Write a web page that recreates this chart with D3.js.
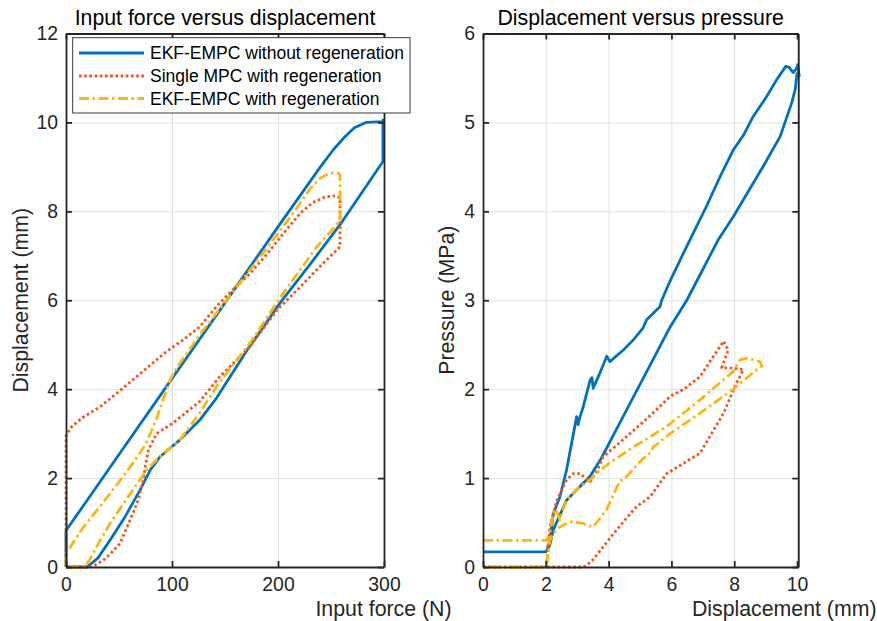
<!DOCTYPE html>
<html>
<head>
<meta charset="utf-8">
<script src="https://cdn.jsdelivr.net/npm/d3@7"></script>
<style>
  html, body { margin: 0; padding: 0; background: #fff; }
  svg { display: block; font-family: "Liberation Sans", Arial, Helvetica, sans-serif; }
</style>
</head>
<body>
<svg id="chart" width="877" height="621"></svg>
<script>
// ---------------- DATA ----------------
const seriesNames = ["EKF-EMPC without regeneration", "Single MPC with regeneration", "EKF-EMPC with regeneration"];

const leftTitle = "Input force versus displacement";
const leftXLabel = "Input force (N)";
const leftYLabel = "Displacement (mm)";
const leftXTicks = [0, 100, 200, 300];
const leftYTicks = [0, 2, 4, 6, 8, 10, 12];

const rightTitle = "Displacement versus pressure";
const rightXLabel = "Displacement (mm)";
const rightYLabel = "Pressure (MPa)";
const rightXTicks = [0, 2, 4, 6, 8, 10];
const rightYTicks = [0, 1, 2, 3, 4, 5, 6];

// Left: [input force (N), displacement (mm)]
const leftBlue = [[0,0],[0,0.82],[20,1.5],[50,2.53],[98,4.17],[150,5.94],[200,7.65],[240,9.0],[252,9.38],
  [262,9.65],[272,9.88],[283,10.0],[299,10.02],[299,10.05],[299,9.12],[280,8.45],[258.5,7.7],[230,6.8],[202,5.94],
  [170,4.85],[142,3.8],[126,3.3],[107.5,2.86],[88.7,2.48],[80,2.2],[69.8,1.73],[55,1.1],[41.5,0.6],[30,0.2],[20,0],[0,0]];
const leftRed = [[0,0],[0,2.95],[5,3.15],[15,3.35],[32,3.6],[50,3.95],[65,4.25],[80,4.55],[95,4.85],[110,5.1],
  [126,5.4],[142,5.86],[160,6.3],[173.6,6.6],[190,7.05],[205,7.5],[221,7.96],[233,8.2],[245,8.33],[255,8.35],
  [258.5,8.3],[258.5,7.2],[249,6.98],[235,6.65],[221,6.3],[199,5.78],[173.6,4.96],[145,4.28],[126,3.72],[101,3.24],
  [85.5,3.0],[78,2.65],[75,2.3],[73,1.96],[68,1.5],[63,1.2],[51,0.53],[42,0.3],[35,0.15],[28,0.05],[22.6,0],[0,0]];
const leftYellow = [[0,0],[0,0.3],[15,0.85],[32,1.36],[48,1.85],[63,2.33],[75,2.75],[85,3.3],[92,3.8],[98,4.2],
  [105,4.5],[114,4.8],[126,5.22],[142,5.71],[173.6,6.68],[205,7.66],[220,8.15],[230,8.5],[240,8.75],[249,8.86],
  [256,8.87],[258.5,8.82],[258.5,7.8],[248,7.5],[236.5,7.2],[205,6.16],[173.6,5.04],[142,4.06],[126,3.46],
  [107.5,2.86],[95,2.6],[85.5,2.41],[76,2.18],[63,1.73],[41.5,0.98],[29,0.46],[22,0.15],[18,0],[0,0]];

// Right: [displacement (mm), pressure (MPa)]
const rightBlue = [[0,0.17],[2.0,0.17],[2.05,0.2],[2.13,0.3],[2.24,0.6],[2.45,0.79],[2.66,1.09],[2.88,1.5],
  [2.98,1.69],[3.03,1.6],[3.08,1.68],[3.19,1.8],[3.41,2.1],[3.47,2.13],[3.51,2.01],[3.72,2.18],[3.94,2.37],
  [4.04,2.31],[4.47,2.44],[4.8,2.56],[5.1,2.69],[5.21,2.78],[5.64,2.93],[5.69,3.0],[6.0,3.25],[6.59,3.68],
  [7.12,4.06],[7.55,4.39],[7.97,4.69],[8.3,4.86],[8.61,5.07],[9.03,5.29],[9.35,5.48],[9.64,5.63],[9.75,5.62],
  [9.88,5.56],[9.99,5.61],[10.02,5.65],[10.07,5.52],[10.0,5.55],[9.94,5.37],[9.83,5.22],[9.46,4.84],[8.93,4.51],
  [7.97,3.94],[7.49,3.68],[6.49,3.0],[5.96,2.7],[3.73,1.2],[3.41,1.02],[2.66,0.75],[2.24,0.42],[2.13,0.25],[2.05,0.2]];
const rightRed = [[0,0],[2.0,0],[2.03,0.04],[2.13,0.45],[2.35,0.75],[2.66,0.98],[2.88,1.05],[3.09,1.05],
  [3.41,0.96],[3.6,1.06],[3.83,1.24],[4.26,1.37],[4.68,1.5],[5.1,1.63],[5.53,1.77],[5.96,1.92],[6.4,2.0],
  [6.91,2.14],[7.3,2.35],[7.66,2.54],[7.81,2.44],[7.71,2.35],[7.6,2.24],[7.87,2.24],[8.29,2.22],[8.18,2.14],
  [8.07,2.07],[7.66,1.73],[6.91,1.28],[6.4,1.17],[5.85,1.05],[5.32,0.79],[4.9,0.68],[4.79,0.64],[4.26,0.42],
  [3.83,0.23],[3.5,0.08],[3.3,0.02],[3.2,0],[2.0,0]];
const rightYellow = [[0,0.3],[2.0,0.3],[2.05,0.32],[2.13,0.38],[2.24,0.6],[2.3,0.65],[2.35,0.62],[2.45,0.53],
  [2.55,0.65],[2.66,0.75],[2.98,0.87],[3.41,0.98],[3.73,1.09],[4.04,1.17],[4.79,1.35],[5.85,1.58],[6.91,1.88],
  [7.97,2.2],[8.18,2.33],[8.4,2.35],[8.82,2.31],[8.88,2.26],[8.72,2.22],[7.97,2.0],[6.91,1.73],[5.96,1.5],
  [5.43,1.35],[5.25,1.25],[5.1,1.22],[4.47,0.98],[4.36,0.97],[3.94,0.65],[3.51,0.45],[3.3,0.47],[3.19,0.49],
  [2.77,0.51],[2.45,0.45],[2.24,0.38],[2.13,0.3],[2.05,0.1],[2.03,0.02],[2.0,0],[0,0]];

// ---------------- STYLE ----------------
const colors = ["#0072BD", "#F4561C", "#FDB50F"];
const dashes = [null, "2.6,2.6", "10,3.5,2.5,3.5"];
const textColor = "#262626";
const tickFont = 19.4, labelFont = 21.3, legendFont = 17.5;

const svg = d3.select("#chart");

function panel(cfg) {
  const x = d3.scaleLinear().domain(cfg.xDomain).range([cfg.left, cfg.right]);
  const y = d3.scaleLinear().domain(cfg.yDomain).range([cfg.bottom, cfg.top]);
  const W = cfg.right - cfg.left, H = cfg.bottom - cfg.top;
  const g = svg.append("g");

  // grid
  const gx = g.append("g").attr("transform", `translate(0,${cfg.bottom})`)
    .call(d3.axisBottom(x).tickValues(cfg.xTicks).tickSize(-H).tickFormat(""));
  const gy = g.append("g").attr("transform", `translate(${cfg.left},0)`)
    .call(d3.axisLeft(y).tickValues(cfg.yTicks).tickSize(-W).tickFormat(""));
  [gx, gy].forEach(a => { a.select(".domain").remove(); a.selectAll("line").attr("stroke", "#e0e0e0").attr("stroke-width", 1); });

  // data
  const line = d3.line().x(d => x(d[0])).y(d => y(d[1]));
  cfg.series.forEach((s, i) => {
    g.append("path").datum(s).attr("d", line)
      .attr("fill", "none").attr("stroke", colors[i]).attr("stroke-width", 2.8)
      .attr("stroke-linejoin", "round")
      .attr("stroke-dasharray", dashes[i]);
  });

  // axes
  const styleAxis = a => {
    a.select(".domain").attr("stroke", textColor).attr("stroke-width", 1.8);
    a.selectAll(".tick line").attr("stroke", textColor).attr("stroke-width", 1.8);
    a.selectAll("text").attr("fill", textColor).style("font-size", tickFont + "px");
  };
  const ab = g.append("g").attr("transform", `translate(0,${cfg.bottom})`)
    .call(d3.axisBottom(x).tickValues(cfg.xTicks).tickSizeInner(-6).tickSizeOuter(0).tickPadding(10.5).tickFormat(d3.format("d")));
  const at = g.append("g").attr("transform", `translate(0,${cfg.top})`)
    .call(d3.axisTop(x).tickValues(cfg.xTicks).tickSizeInner(-6).tickSizeOuter(0).tickFormat(""));
  const al = g.append("g").attr("transform", `translate(${cfg.left},0)`)
    .call(d3.axisLeft(y).tickValues(cfg.yTicks).tickSizeInner(-6).tickSizeOuter(0).tickPadding(8).tickFormat(d3.format("d")));
  const ar = g.append("g").attr("transform", `translate(${cfg.right},0)`)
    .call(d3.axisRight(y).tickValues(cfg.yTicks).tickSizeInner(-6).tickSizeOuter(0).tickFormat(""));
  [ab, at, al, ar].forEach(styleAxis);
  [ab, at, al, ar].forEach(a => a.attr("font-family", null));

  // title
  g.append("text").attr("x", (cfg.left + cfg.right) / 2).attr("y", 25)
    .attr("text-anchor", "middle").attr("fill", "#000").style("font-size", labelFont + "px").text(cfg.title);
  // x label
  g.append("text").attr("x", cfg.xLabelX).attr("y", 616)
    .attr("text-anchor", cfg.xLabelAnchor).attr("fill", textColor).style("font-size", labelFont + "px").text(cfg.xLabel);
  // y label
  g.append("text").attr("transform", `translate(${cfg.yLabelX},${(cfg.top + cfg.bottom) / 2}) rotate(-90)`)
    .attr("text-anchor", "middle").attr("fill", textColor).style("font-size", labelFont + "px").text(cfg.yLabel);
  return g;
}

panel({
  left: 66, right: 384, top: 33.5, bottom: 567,
  xDomain: [0, 300], yDomain: [0, 12],
  xTicks: leftXTicks, yTicks: leftYTicks,
  series: [leftBlue, leftRed, leftYellow],
  title: leftTitle, xLabel: leftXLabel, yLabel: leftYLabel,
  xLabelX: 383.5, xLabelAnchor: "middle", yLabelX: 28
});

panel({
  left: 483, right: 798.3, top: 33.5, bottom: 567,
  xDomain: [0, 10.04], yDomain: [0, 6],
  xTicks: rightXTicks, yTicks: rightYTicks,
  series: [rightBlue, rightRed, rightYellow],
  title: rightTitle, xLabel: rightXLabel, yLabel: rightYLabel,
  xLabelX: 876.5, xLabelAnchor: "end", yLabelX: 454
});

// legend
const lg = svg.append("g");
lg.append("rect").attr("x", 72.7).attr("y", 37.7).attr("width", 337.3).attr("height", 75.3)
  .attr("fill", "#fff").attr("stroke", "#262626").attr("stroke-width", 0.9);
const rowY = [53, 76, 98.5];
seriesNames.forEach((name, i) => {
  lg.append("line").attr("x1", 79).attr("x2", 144).attr("y1", rowY[i]).attr("y2", rowY[i])
    .attr("stroke", colors[i]).attr("stroke-width", 2.8).attr("stroke-dasharray", dashes[i]);
  lg.append("text").attr("x", 150).attr("y", rowY[i]).attr("dy", "0.35em")
    .attr("fill", "#000").style("font-size", legendFont + "px").text(name);
});
</script>
</body>
</html>
